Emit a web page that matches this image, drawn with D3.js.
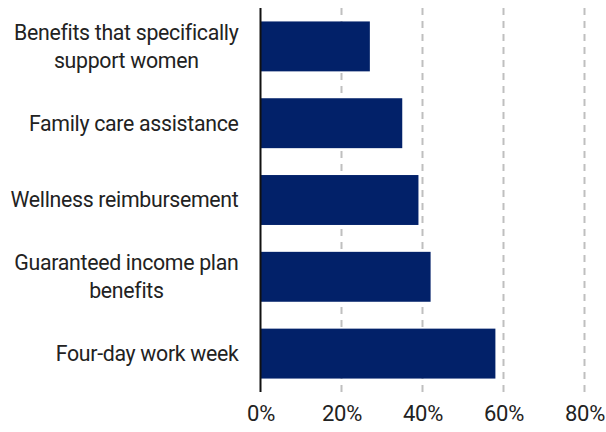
<!DOCTYPE html>
<html lang="en">
<head>
  <meta charset="UTF-8">
  <title>Benefits chart</title>
  <script src="https://cdn.jsdelivr.net/npm/d3@7"></script>
  <style>
    body { margin: 0; background: #fff; }
    text { font-family: Roboto, "Noto Sans", sans-serif; fill: #222; }
  </style>
</head>
<body>
  <svg class="bar-chart"></svg>
<script>
  var svgWidth = 606;
  var svgHeight = 432;
  var categories = [
    ['Benefits that specifically', 'support women'],
    ['Family care assistance'],
    ['Wellness reimbursement'],
    ['Guaranteed income plan', 'benefits'],
    ['Four-day work week']
  ];
  var values = [27, 35, 39, 42, 58];
  var ticks = [0, 20, 40, 60, 80];
  var margin = {top: 8, right: 21.5, bottom: 40, left: 260.5};
  var chartWidth = svgWidth - margin.left - margin.right;
  var chartHeight = svgHeight - margin.top - margin.bottom;

  var svg = d3.select('.bar-chart')
  .attr('width', svgWidth)
  .attr('height', svgHeight);

  var xScale = d3.scaleLinear()
  .domain([0, 80])
  .range([0, chartWidth]);

  var yScale = d3.scaleBand()
  .domain(d3.range(values.length))
  .range([0, chartHeight])
  .paddingInner(0.35)
  .paddingOuter(0.175);

  var chart = svg.append('g')
  .attr('transform', 'translate(' + margin.left + ',' + margin.top + ')');

  // dashed gridlines
  chart.selectAll('.grid')
  .data(ticks.slice(1))
  .enter()
  .append('line')
  .attr('class', 'grid')
  .attr('x1', function(d) { return xScale(d); })
  .attr('x2', function(d) { return xScale(d); })
  .attr('y1', 0)
  .attr('y2', chartHeight)
  .attr('stroke', '#bfbfbf')
  .attr('stroke-width', 2)
  .attr('stroke-dasharray', '7,6');

  chart.selectAll('rect')
  .data(values)
  .enter()
  .append('rect')
  .attr('x', 0)
  .attr('y', function(d, i) { return yScale(i); })
  .attr('width', function(d) { return xScale(d); })
  .attr('height', yScale.bandwidth())
  .attr('fill', '#022169');

  // x tick labels
  var xAxis = d3.axisBottom(xScale)
  .tickValues(ticks)
  .tickSize(0)
  .tickPadding(13)
  .tickFormat(function(d) { return d + '%'; });
  var xg = chart.append('g')
  .attr('transform', 'translate(0,' + chartHeight + ')')
  .call(xAxis);
  xg.select('.domain').remove();
  xg.selectAll('text')
  .attr('font-size', 22)
  .attr('letter-spacing', -0.3)
  .style('font-family', 'Roboto, "Noto Sans", sans-serif')
  .attr('fill', '#222');

  // category labels: block right-aligned, lines centred within it
  var labelRight = -22;
  var label = chart.selectAll('.cat')
  .data(categories)
  .enter()
  .append('text')
  .attr('class', 'cat')
  .attr('text-anchor', 'middle')
  .attr('font-size', 21.3)
  .attr('letter-spacing', -0.3)
  .attr('y', function(d, i) { return yScale(i) + yScale.bandwidth() / 2; });
  label.each(function(d) {
    var t = d3.select(this);
    var spans = d.map(function(line, j) {
      return t.append('tspan')
      .attr('dy', j === 0 ? (0.35 - (d.length - 1) * 0.65) + 'em' : '1.3em')
      .text(line);
    });
    var maxW = d3.max(spans, function(s) { return s.node().getComputedTextLength(); });
    spans.forEach(function(s) { s.attr('x', labelRight - maxW / 2); });
  });

  // left axis line
  chart.append('line')
  .attr('x1', 0)
  .attr('x2', 0)
  .attr('y1', 0)
  .attr('y2', chartHeight)
  .attr('stroke', '#111')
  .attr('stroke-width', 2);
</script>
</body>
</html>
